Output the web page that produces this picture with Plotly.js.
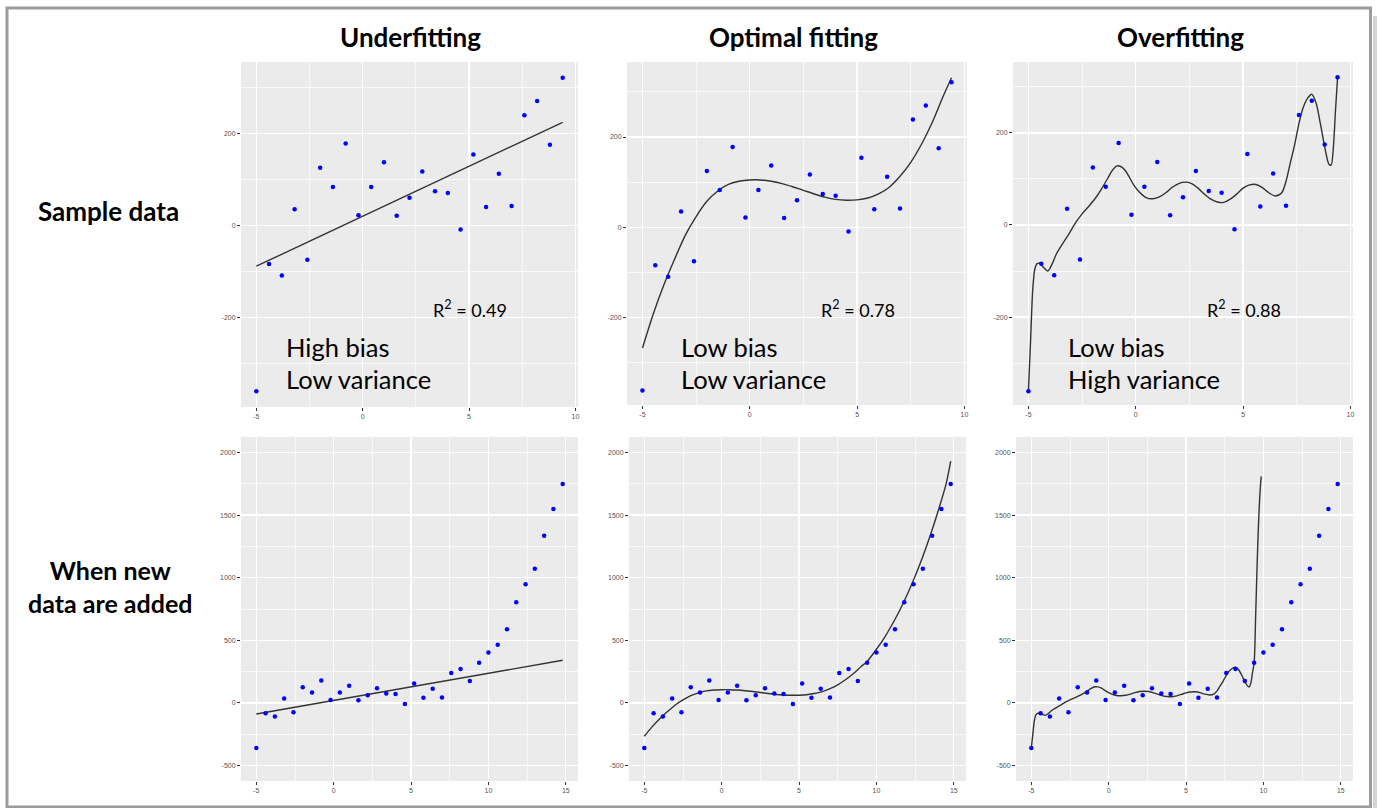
<!DOCTYPE html>
<html>
<head>
<meta charset="utf-8">
<script src="https://cdn.plot.ly/plotly-3.0.1.min.js"></script>
<style>
html,body{margin:0;padding:0;background:#fff;}
#chart{width:1377px;height:808px;}
</style>
</head>
<body>
<div id="chart"></div>
<script>
// ---------- data ----------
const sampleX = [-5,-4.4,-3.8,-3.2,-2.6,-2,-1.4,-0.8,-0.2,0.4,1,1.6,2.2,2.8,3.4,4,4.6,5.2,5.8,6.4,7,7.6,8.2,8.8,9.4];
const sampleY = [-361,-84,-109,35,-75,125,83,178,22,83,137,21,60,117,74,70,-9,154,40,112,42,239,270,175,321];
const newX = [10,10.6,11.2,11.8,12.4,13,13.6,14.2,14.8];
const newY = [403,464,589,803,947,1072,1336,1549,1749];

// linear fit (underfitting)
const linX = [-5, 9.4, 14.8];
const linY = [-89, 224, 340];

// cubic fit (optimal)
const optX = [-5,-4.5,-4,-3.5,-3,-2.5,-2,-1.5,-1,-0.5,0,0.5,1,1.5,2,2.5,3,3.5,4,4.5,5,5.5,6,6.5,7,7.5,8,8.5,9,9.4,
              10,10.5,11,11.5,12,12.5,13,13.5,14,14.5,14.8];
const optY = [-267,-192,-127,-70,-17,24,58,80,95,102,105,105,102,97,90,82,74,67,62,60,61,65,74,89,113,144,184,232,289,331,
              428,518,622,738,868,1012,1170,1345,1537,1748,1933];

// high-degree fit (overfitting)
const overX = [-5,-4.9,-4.8,-4.7,-4.6,-4.5,-4.3,-4.1,-3.9,-3.7,-3.4,-3.1,-2.8,-2.5,-2.2,-1.9,-1.6,-1.3,-1.1,-0.9,-0.7,-0.5,-0.3,-0.1,
               0.2,0.5,0.8,1.1,1.4,1.7,2,2.3,2.6,2.9,3.2,3.5,3.8,4.1,4.4,4.7,5,5.3,5.6,5.9,6.2,6.5,6.8,7,7.2,7.4,7.6,7.8,
               8,8.2,8.4,8.6,8.8,9,9.1,9.2,9.3,9.4,
               9.5,9.6,9.7,9.8,9.86];
const overY = [-359,-250,-140,-95,-84,-83,-92,-100,-85,-63,-40,-18,5,24,40,57,78,102,118,128,127,119,104,87,
               70,59,57,61,70,82,90,93,90,80,67,56,50,49,56,67,80,87,88,81,70,63,70,95,135,174,220,255,
               275,284,265,220,170,132,130,165,245,320,
               700,1130,1480,1720,1810];

// tick labels
const topXTicks = [-5,0,5,10];
const topYTicks = [-200,0,200];
const botXTicks = [-5,0,5,10,15];
const botYTicks = [-500,0,500,1000,1500,2000];

const colTitles = ["Underfitting","Optimal fitting","Overfitting"];
const rowTitles = ["Sample data","When new<br>data are added"];
const r2Labels = ["R<sup>2</sup> = 0.49","R<sup>2</sup> = 0.78","R<sup>2</sup> = 0.88"];
const biasLabels = ["High bias","Low bias","Low bias"];
const varLabels = ["Low variance","Low variance","High variance"];

// ---------- helpers ----------
const W = 1377, H = 808;
const fx = v => v / W;
const fy = v => 1 - v / H;
const lab = a => a.map(v => String(v));
const upTo = (xs, ys, lim) => {
  const X = [], Y = [];
  xs.forEach((x, i) => { if (x <= lim + 1e-9) { X.push(x); Y.push(ys[i]); } });
  return {X, Y};
};

const panels = [
  {x0:241, x1:578, y0:62, y1:407},
  {x0:627, x1:967, y0:62, y1:405},
  {x0:1013,x1:1353,y0:62, y1:405},
  {x0:241, x1:578, y0:437,y1:781},
  {x0:629, x1:966, y0:437,y1:781},
  {x0:1016,x1:1353,y0:437,y1:781}
];

const tickFont = {family:"Liberation Sans, Arial, sans-serif", size:7, color:"#555555"};
function axisCommon() {
  return {
    showgrid:true, gridcolor:"#ffffff", gridwidth:1.4,
    zeroline:false, showline:false,
    ticks:"outside", ticklen:3, tickwidth:1, tickcolor:"#333333",
    tickfont:tickFont, tickmode:"array", fixedrange:true
  };
}

const layout = {
  width:W, height:H,
  margin:{l:0,r:0,t:0,b:0},
  paper_bgcolor:"#ffffff",
  plot_bgcolor:"#ebebeb",
  showlegend:false,
  annotations:[],
  shapes:[]
};

const minorGrid = d => ({tick0:0, dtick:d, showgrid:true, gridcolor:"#ffffff", gridwidth:0.7, ticks:""});
const topRanges = [[-395,355],[-393,366],[-391,354]];
panels.forEach((p, i) => {
  const n = i + 1;
  const xa = Object.assign(axisCommon(), {
    domain:[fx(p.x0), fx(p.x1)], anchor:"y"+n
  });
  const ya = Object.assign(axisCommon(), {
    domain:[fy(p.y1), fy(p.y0)], anchor:"x"+n
  });
  if (i < 3) {
    xa.range = [-5.72, 10.12];
    xa.tickvals = topXTicks; xa.ticktext = lab(topXTicks);
    xa.minor = minorGrid(2.5);
    ya.range = topRanges[i];
    ya.tickvals = topYTicks; ya.ticktext = lab(topYTicks);
    ya.minor = minorGrid(100);
  } else {
    xa.range = [-5.99, 15.79];
    xa.tickvals = botXTicks; xa.ticktext = lab(botXTicks);
    xa.minor = minorGrid(2.5);
    ya.range = [-625, 2125];
    ya.tickvals = botYTicks; ya.ticktext = lab(botYTicks);
    ya.minor = minorGrid(250);
  }
  layout["xaxis" + (n === 1 ? "" : n)] = xa;
  layout["yaxis" + (n === 1 ? "" : n)] = ya;
});

// ---------- traces ----------
const traces = [];
const lineStyle = {color:"#333333", width:1.4};
const ptStyle = {color:"#0000ff", size:4.5};
function addPanel(n, ptsX, ptsY, fitX, fitY, spline) {
  const xr = "x" + (n === 1 ? "" : n), yr = "y" + (n === 1 ? "" : n);
  traces.push({x:fitX, y:fitY, xaxis:xr, yaxis:yr, mode:"lines", type:"scatter",
    line:Object.assign({}, lineStyle, spline ? {shape:"spline", smoothing:0.8} : {}), hoverinfo:"skip"});
  traces.push({x:ptsX, y:ptsY, xaxis:xr, yaxis:yr, mode:"markers", type:"scatter",
    marker:ptStyle, hoverinfo:"skip"});
}
const allX = sampleX.concat(newX), allY = sampleY.concat(newY);
const linTop = upTo(linX, linY, 9.4);
const optTop = upTo(optX, optY, 9.4);
const overTop = upTo(overX, overY, 9.4);
addPanel(1, sampleX, sampleY, linTop.X, linTop.Y, false);
addPanel(2, sampleX, sampleY, optTop.X, optTop.Y, true);
addPanel(3, sampleX, sampleY, overTop.X, overTop.Y, true);
addPanel(4, allX, allY, [linX[0], linX[2]], [linY[0], linY[2]], false);
addPanel(5, allX, allY, optX, optY, true);
addPanel(6, allX, allY, overX, overY, true);

// ---------- text ----------
const txtFont = "Lato, 'Noto Sans', sans-serif";
const colCenters = [410, 793, 1180];
colTitles.forEach((t, i) => layout.annotations.push({
  text:"<b>"+t+"</b>", xref:"paper", yref:"paper", x:fx(colCenters[i]), y:fy(37),
  xanchor:"center", yanchor:"middle", showarrow:false,
  font:{family:txtFont, size:26, color:"#000"}
}));
layout.annotations.push({
  text:"<b>"+rowTitles[0]+"</b>", xref:"paper", yref:"paper", x:fx(108), y:fy(211),
  xanchor:"center", yanchor:"middle", showarrow:false,
  font:{family:txtFont, size:26, color:"#000"}
});
layout.annotations.push({
  text:"<b>"+rowTitles[1]+"</b>", xref:"paper", yref:"paper", x:fx(110), y:fy(586),
  xanchor:"center", yanchor:"middle", showarrow:false, align:"center",
  font:{family:txtFont, size:25, color:"#000"}
});
const r2Pos = [[431,309],[819,309],[1205,309]];
const biasPos = [284, 679, 1066];
for (let i = 0; i < 3; i++) {
  layout.annotations.push({
    text:r2Labels[i], xref:"paper", yref:"paper", x:fx(r2Pos[i][0]), y:fy(r2Pos[i][1]),
    xanchor:"left", yanchor:"middle", showarrow:false,
    font:{family:txtFont, size:18, color:"#000"}
  });
  layout.annotations.push({
    text:biasLabels[i], xref:"paper", yref:"paper", x:fx(biasPos[i]), y:fy(347),
    xanchor:"left", yanchor:"middle", showarrow:false,
    font:{family:txtFont, size:25.5, color:"#000"}
  });
  layout.annotations.push({
    text:varLabels[i], xref:"paper", yref:"paper", x:fx(biasPos[i]), y:fy(379),
    xanchor:"left", yanchor:"middle", showarrow:false,
    font:{family:txtFont, size:25.5, color:"#000"}
  });
}

// frame
layout.shapes.push({type:"rect", xref:"paper", yref:"paper",
  x0:fx(7), x1:fx(1370.5), y0:fy(807), y1:fy(8),
  line:{color:"#9c9c9c", width:3}, fillcolor:"rgba(0,0,0,0)", layer:"above"});
layout.shapes.push({type:"rect", xref:"paper", yref:"paper",
  x0:fx(1373), x1:fx(1377), y0:fy(808), y1:fy(16),
  line:{width:0}, fillcolor:"#d8d3ce", layer:"above"});

Plotly.newPlot("chart", traces, layout, {staticPlot:true, displayModeBar:false});
</script>
</body>
</html>
